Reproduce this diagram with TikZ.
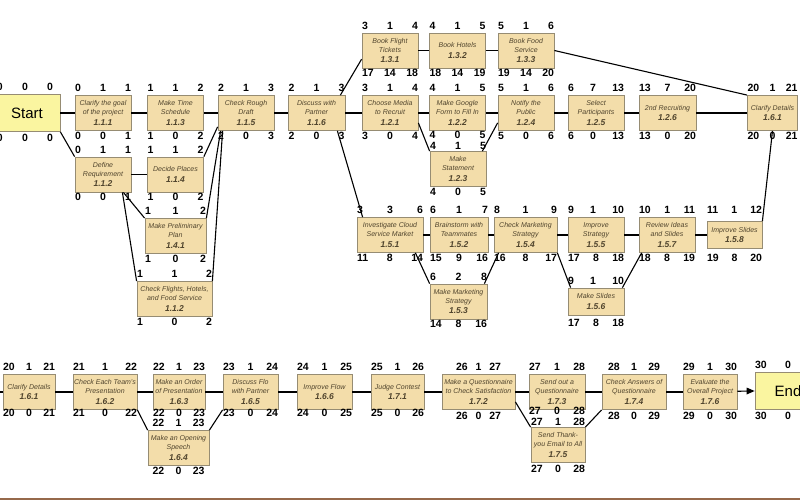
\documentclass[tikz,border=0pt]{standalone}
\usepackage{fontspec}
\setmainfont{Liberation Sans}
\usetikzlibrary{positioning}
\definecolor{boxfill}{RGB}{243,221,170}
\definecolor{boxline}{RGB}{150,140,115}
\definecolor{endfill}{RGB}{250,245,160}
\definecolor{boxtext}{RGB}{80,68,45}
\definecolor{edgeline}{RGB}{150,105,75}
\newcommand{\wbs}[1]{{\bfseries\fontsize{8.5}{10}\selectfont #1}}

\begin{document}
\begin{tikzpicture}[x=1pt,y=-1pt]
\tikzset{
  task/.style={draw=boxline, fill=boxfill, line width=0.8pt, inner sep=1pt, minimum width=#1, minimum height=35pt, align=center, text=boxtext, font=\itshape\fontsize{7}{9}\selectfont},
  task/.default=56pt,
  ends/.style={draw=boxline, fill=endfill, line width=0.8pt, minimum width=66pt, minimum height=37pt, font=\fontsize{15}{18}\selectfont},
  nums/.style={inner sep=0pt, text width=#1, font=\bfseries\fontsize{10.5}{12}\selectfont},
  nums/.default=56pt,
  link/.style={line width=1.1pt}
}
\useasboundingbox (0,0) rectangle (800,500);
\clip (0,0) rectangle (800,500);
\node[ends] (start) at (27,113) {Start};
\node[nums, above=3pt of start, xshift=-2pt] (startt) {0\hfill0\hfill0};
\node[nums, below=2pt of start, xshift=-2pt] (startb) {0\hfill0\hfill0};
\node[task] (t111) at (103,113) {Clarify the goal\\of the project\\[1.5pt]\wbs{1.1.1}};
\node[nums, above=3pt of t111] (t111t) {0\hfill1\hfill1};
\node[nums, below=1pt of t111] (t111b) {0\hfill0\hfill1};
\node[task] (t113) at (175.5,113) {Make Time\\Schedule\\[1.5pt]\wbs{1.1.3}};
\node[nums, above=3pt of t113] (t113t) {1\hfill1\hfill2};
\node[nums, below=1pt of t113] (t113b) {1\hfill0\hfill2};
\node[task] (t115) at (246,113) {Check Rough\\Draft\\[1.5pt]\wbs{1.1.5}};
\node[nums, above=3pt of t115] (t115t) {2\hfill1\hfill3};
\node[nums, below=1pt of t115] (t115b) {2\hfill0\hfill3};
\node[task=57pt] (t116) at (316.5,113) {Discuss with\\Partner\\[1.5pt]\wbs{1.1.6}};
\node[nums, above=3pt of t116] (t116t) {2\hfill1\hfill3};
\node[nums, below=1pt of t116] (t116b) {2\hfill0\hfill3};
\node[task] (t121) at (390,113) {Choose Media\\to Recruit\\[1.5pt]\wbs{1.2.1}};
\node[nums, above=3pt of t121] (t121t) {3\hfill1\hfill4};
\node[nums, below=1pt of t121] (t121b) {3\hfill0\hfill4};
\node[task] (t122) at (457.5,113) {Make Google\\Form to Fill In\\[1.5pt]\wbs{1.2.2}};
\node[nums, above=3pt of t122] (t122t) {4\hfill1\hfill5};
\node[nums, below=0pt of t122] (t122b) {4\hfill0\hfill5};
\node[task] (t124) at (526,113) {Notify the\\Public\\[1.5pt]\wbs{1.2.4}};
\node[nums, above=3pt of t124] (t124t) {5\hfill1\hfill6};
\node[nums, below=1pt of t124] (t124b) {5\hfill0\hfill6};
\node[task] (t125) at (596,113) {Select\\Participants\\[1.5pt]\wbs{1.2.5}};
\node[nums, above=3pt of t125] (t125t) {6\hfill7\hfill13};
\node[nums, below=1pt of t125] (t125b) {6\hfill0\hfill13};
\node[task=57pt] (t126) at (667.5,113) {2nd Recruiting\\[1.5pt]\wbs{1.2.6}};
\node[nums=57pt, above=3pt of t126] (t126t) {13\hfill7\hfill20};
\node[nums=57pt, below=1pt of t126] (t126b) {13\hfill0\hfill20};
\node[task=50pt] (t161) at (772.5,113) {Clarify Details\\[1.5pt]\wbs{1.6.1}};
\node[nums=50pt, above=3pt of t161] (t161t) {20\hfill1\hfill21};
\node[nums=50pt, below=1pt of t161] (t161b) {20\hfill0\hfill21};
\node[task] (t112) at (103,174.5) {Define\\Requirement\\[1.5pt]\wbs{1.1.2}};
\node[nums, above=3pt of t112] (t112t) {0\hfill1\hfill1};
\node[nums, below=1pt of t112] (t112b) {0\hfill0\hfill1};
\node[task] (t114) at (175.5,174.5) {Decide Places\\[1.5pt]\wbs{1.1.4}};
\node[nums, above=3pt of t114] (t114t) {1\hfill1\hfill2};
\node[nums, below=1pt of t114] (t114b) {1\hfill0\hfill2};
\node[task] (t123) at (458,169) {Make\\Statement\\[1.5pt]\wbs{1.2.3}};
\node[nums, above=1pt of t123] (t123t) {4\hfill1\hfill5};
\node[nums, below=1pt of t123] (t123b) {4\hfill0\hfill5};
\node[task=61pt] (t141) at (175.5,236) {Make Preliminary\\Plan\\[1.5pt]\wbs{1.4.1}};
\node[nums=61pt, above=3pt of t141] (t141t) {1\hfill1\hfill2};
\node[nums=61pt, below=1pt of t141] (t141b) {1\hfill0\hfill2};
\node[task=75pt] (t112f) at (174.5,299) {Check Flights, Hotels,\\and Food Service\\[1.5pt]\wbs{1.1.2}};
\node[nums=75pt, above=3pt of t112f] (t112ft) {1\hfill1\hfill2};
\node[nums=75pt, below=1pt of t112f] (t112fb) {1\hfill0\hfill2};
\node[task] (t131) at (390,50.5) {Book Flight\\Tickets\\[1.5pt]\wbs{1.3.1}};
\node[nums, above=3pt of t131] (t131t) {3\hfill1\hfill4};
\node[nums, below=1pt of t131] (t131b) {17\hfill14\hfill18};
\node[task] (t132) at (457.5,50.5) {Book Hotels\\[1.5pt]\wbs{1.3.2}};
\node[nums, above=3pt of t132] (t132t) {4\hfill1\hfill5};
\node[nums, below=1pt of t132] (t132b) {18\hfill14\hfill19};
\node[task] (t133) at (526,50.5) {Book Food\\Service\\[1.5pt]\wbs{1.3.3}};
\node[nums, above=3pt of t133] (t133t) {5\hfill1\hfill6};
\node[nums, below=1pt of t133] (t133b) {19\hfill14\hfill20};
\node[task=66pt] (t151) at (390,235) {Investigate Cloud\\Service Market\\[1.5pt]\wbs{1.5.1}};
\node[nums=66pt, above=3pt of t151] (t151t) {3\hfill3\hfill6};
\node[nums=66pt, below=1pt of t151] (t151b) {11\hfill8\hfill14};
\node[task=58pt] (t152) at (459,235) {Brainstorm with\\Teammates\\[1.5pt]\wbs{1.5.2}};
\node[nums=58pt, above=3pt of t152] (t152t) {6\hfill1\hfill7};
\node[nums=58pt, below=1pt of t152] (t152b) {15\hfill9\hfill16};
\node[task=63pt] (t154) at (525.5,235) {Check Marketing\\Strategy\\[1.5pt]\wbs{1.5.4}};
\node[nums=63pt, above=3pt of t154] (t154t) {8\hfill1\hfill9};
\node[nums=63pt, below=1pt of t154] (t154b) {16\hfill8\hfill17};
\node[task=57pt] (t153) at (458.5,301.5) {Make Marketing\\Strategy\\[1.5pt]\wbs{1.5.3}};
\node[nums=57pt, above=3pt of t153] (t153t) {6\hfill2\hfill8};
\node[nums=57pt, below=1pt of t153] (t153b) {14\hfill8\hfill16};
\node[task] (t155) at (596,235) {Improve\\Strategy\\[1.5pt]\wbs{1.5.5}};
\node[nums, above=3pt of t155] (t155t) {9\hfill1\hfill10};
\node[nums, below=1pt of t155] (t155b) {17\hfill8\hfill18};
\node[task] (t157) at (667,235) {Review Ideas\\and Slides\\[1.5pt]\wbs{1.5.7}};
\node[nums, above=3pt of t157] (t157t) {10\hfill1\hfill11};
\node[nums, below=1pt of t157] (t157b) {18\hfill8\hfill19};
\node[task=55pt, minimum height=27pt] (t158) at (734.5,235) {Improve Slides\\[1.5pt]\wbs{1.5.8}};
\node[nums=55pt, above=7pt of t158] (t158t) {11\hfill1\hfill12};
\node[nums=55pt, below=5pt of t158] (t158b) {19\hfill8\hfill20};
\node[task, minimum height=27pt] (t156) at (596,301.5) {Make Slides\\[1.5pt]\wbs{1.5.6}};
\node[nums, above=3pt of t156] (t156t) {9\hfill1\hfill10};
\node[nums, below=4pt of t156] (t156b) {17\hfill8\hfill18};
\node[task=52pt] (t161x) at (29,392) {Clarify Details\\[1.5pt]\wbs{1.6.1}};
\node[nums=52pt, above=3pt of t161x] (t161xt) {20\hfill1\hfill21};
\node[nums=52pt, below=-1pt of t161x] (t161xb) {20\hfill0\hfill21};
\node[task=64pt] (t162) at (105,392) {Check Each Team's\\Presentation\\[1.5pt]\wbs{1.6.2}};
\node[nums=64pt, above=3pt of t162] (t162t) {21\hfill1\hfill22};
\node[nums=64pt, below=-1pt of t162] (t162b) {21\hfill0\hfill22};
\node[task=52pt] (t163) at (179,392) {Make an Order\\of Presentation\\[1.5pt]\wbs{1.6.3}};
\node[nums=52pt, above=3pt of t163] (t163t) {22\hfill1\hfill23};
\node[nums=52pt, below=-1pt of t163] (t163b) {22\hfill0\hfill23};
\node[task=55pt] (t165) at (250.5,392) {Discuss Flo\\with Partner\\[1.5pt]\wbs{1.6.5}};
\node[nums=55pt, above=3pt of t165] (t165t) {23\hfill1\hfill24};
\node[nums=55pt, below=-1pt of t165] (t165b) {23\hfill0\hfill24};
\node[task=61pt] (t164) at (178.5,448) {Make an Opening\\Speech\\[1.5pt]\wbs{1.6.4}};
\node[nums=52pt, above=3pt of t164] (t164t) {22\hfill1\hfill23};
\node[nums=52pt, below=1pt of t164] (t164b) {22\hfill0\hfill23};
\node[task=55pt] (t166) at (324.5,392) {Improve Flow\\[1.5pt]\wbs{1.6.6}};
\node[nums=55pt, above=3pt of t166] (t166t) {24\hfill1\hfill25};
\node[nums=55pt, below=-1pt of t166] (t166b) {24\hfill0\hfill25};
\node[task=53pt] (t171) at (397.5,392) {Judge Contest\\[1.5pt]\wbs{1.7.1}};
\node[nums=53pt, above=3pt of t171] (t171t) {25\hfill1\hfill26};
\node[nums=53pt, below=-1pt of t171] (t171b) {25\hfill0\hfill26};
\node[task=73pt] (t172) at (478.5,392) {Make a Questionnaire\\to Check Satisfaction\\[1.5pt]\wbs{1.7.2}};
\node[nums=45pt, above=3pt of t172] (t172t) {26\hfill1\hfill27};
\node[nums=45pt, below=2pt of t172] (t172b) {26\hfill0\hfill27};
\node[task] (t173) at (557,392) {Send out a\\Questionnaire\\[1.5pt]\wbs{1.7.3}};
\node[nums, above=3pt of t173] (t173t) {27\hfill1\hfill28};
\node[nums, below=-3pt of t173] (t173b) {27\hfill0\hfill28};
\node[task=54pt] (t175) at (558,445) {Send Thank-\\you Email to All\\[1.5pt]\wbs{1.7.5}};
\node[nums=54pt, above=1pt of t175] (t175t) {27\hfill1\hfill28};
\node[nums=54pt, below=2pt of t175] (t175b) {27\hfill0\hfill28};
\node[task=64pt] (t174) at (634,392) {Check Answers of\\Questionnaire\\[1.5pt]\wbs{1.7.4}};
\node[nums=52pt, above=3pt of t174] (t174t) {28\hfill1\hfill29};
\node[nums=52pt, below=2pt of t174] (t174b) {28\hfill0\hfill29};
\node[task=54pt] (t176) at (710,392) {Evaluate the\\Overall Project\\[1.5pt]\wbs{1.7.6}};
\node[nums=54pt, above=3pt of t176] (t176t) {29\hfill1\hfill30};
\node[nums=54pt, below=2pt of t176] (t176b) {29\hfill0\hfill30};
\node[ends] (end) at (788,391) {End};
\node[nums=66pt, above=3pt of end] (endt) {30\hfill0\hfill\phantom{30}};
\node[nums=66pt, below=2pt of end] (endb) {30\hfill0\hfill\phantom{30}};
\coordinate (entry) at (-2,392);
\draw[link] (start) -- (t111);
\draw[link] (t111) -- (t113);
\draw[link] (t113) -- (t115);
\draw[link] (t115) -- (t116);
\draw[link] (t116) -- (t121);
\draw[link] (t121) -- (t122);
\draw[link] (t122) -- (t124);
\draw[link] (t124) -- (t125);
\draw[link] (t125) -- (t126);
\draw[link] (t126) -- (t161);
\draw[link] (t112) -- (t114);
\draw[link] (t131) -- (t132);
\draw[link] (t132) -- (t133);
\draw[link] (t151) -- (t152);
\draw[link] (t152) -- (t154);
\draw[link] (t154) -- (t155);
\draw[link] (t155) -- (t157);
\draw[link] (t157) -- (t158);
\draw[link] (start.south east) -- (t112.north west);
\draw[link] ([xshift=-8pt]t112.south east) -- (t141.north west);
\draw[link] ([xshift=-9pt]t112.south east) -- (t112f.north west);
\draw[link] ([yshift=4pt]t115.south west) -- (t114.north east);
\draw[link] ([xshift=3pt]t115.south west) -- (t141.north east);
\draw[link] ([xshift=5pt]t115.south west) -- (t112f.north east);
\draw[link] ([xshift=-5pt]t116.north east) -- (t131.197);
\draw[link] ([xshift=-8pt]t116.south east) -- ([xshift=6pt]t151.north west);
\draw[link] ([yshift=8pt]t121.south east) -- (t123.north west);
\draw[link] ([xshift=-4pt]t123.north east) -- ([yshift=8pt]t124.south west);
\draw[link] (t133.east) -- (t161.north west);
\draw[link] ([xshift=-8pt]t151.south east) -- (t153.north west);
\draw[link] ([xshift=-3pt]t153.north east) -- ([xshift=5pt]t154.south west);
\draw[link] (t154.south east) -- ([xshift=3pt]t156.north west);
\draw[link] ([xshift=-2pt]t156.north east) -- ([xshift=3pt]t157.south west);
\draw[link] (t158.north east) -- (t161.south);
\draw[link] (entry) -- (t161x);
\draw[link] (t161x) -- (t162);
\draw[link] (t162) -- (t163);
\draw[link] (t163) -- (t165);
\draw[link] (t165) -- (t166);
\draw[link] (t166) -- (t171);
\draw[link] (t171) -- (t172);
\draw[link] (t172) -- (t173);
\draw[link] (t173) -- (t174);
\draw[link] (t174) -- (t176);
\draw[link] (t162.south east) -- (t164.north west);
\draw[link] (t164.north east) -- (t165.south west);
\draw[link] ([yshift=8pt]t172.south east) -- (t175.north west);
\draw[link] (t175.north east) -- (t174.south west);
\draw[link] (t176) -- ([xshift=-6pt]end.west);
\fill (end.west) -- ++(-8,-3.5) -- ++(0,7) -- cycle;
\draw[edgeline, line width=2pt] (0,499) -- (800,499);
\end{tikzpicture}
\end{document}
